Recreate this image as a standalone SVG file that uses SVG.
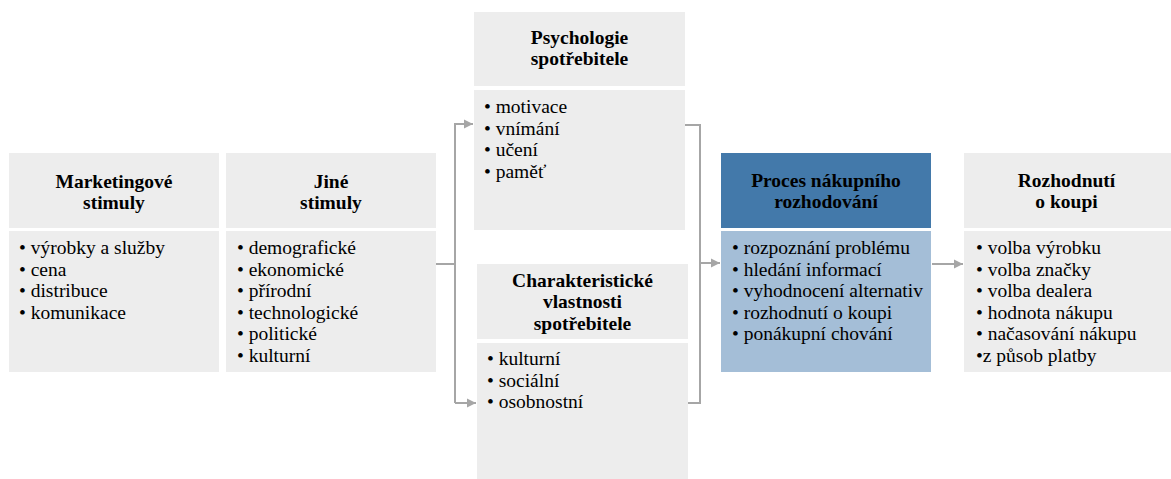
<svg xmlns="http://www.w3.org/2000/svg" width="1171" height="479" viewBox="0 0 1171 479">
<style>
.box{fill:#EDEDED}
.hdrBlue{fill:#4379AA}
.bodyBlue{fill:#A4BED7}
.f{font-family:"Liberation Serif",serif;font-size:19.5px;fill:#000}
.t{font-family:"Liberation Serif",serif;font-size:19.5px;font-weight:bold;text-anchor:middle;fill:#000}
.conn{stroke:#A6A6A6;stroke-width:2;fill:none}
</style>
<defs>
<marker id="arr" markerUnits="userSpaceOnUse" markerWidth="10" markerHeight="10" refX="9" refY="5" orient="auto">
<path d="M0,0.5 L9,5 L0,9.5 z" fill="#A6A6A6"/>
</marker>
</defs>
<rect width="1171" height="479" fill="#FFFFFF"/>
<g id="connectors">
<path class="conn" d="M436,264 H455"/>
<path class="conn" d="M455,403 V124 H473" marker-end="url(#arr)"/>
<path class="conn" d="M455,403 H476" marker-end="url(#arr)"/>
<path class="conn" d="M685,125 H700 V403 H688"/>
<path class="conn" d="M700,263 H720" marker-end="url(#arr)"/>
<path class="conn" d="M932,264 H963" marker-end="url(#arr)"/>
</g>
<g id="marketingove">
<rect class="box" x="9" y="153" width="210" height="75"/>
<rect class="box" x="9" y="231" width="210" height="141"/>
<text class="t" font-family="Liberation Serif"><tspan x="114" y="188">Marketingové</tspan><tspan x="114" y="209">stimuly</tspan></text>
<text class="f" font-family="Liberation Serif"><tspan x="19" y="254">• výrobky a služby</tspan><tspan x="19" y="275.5">• cena</tspan><tspan x="19" y="297">• distribuce</tspan><tspan x="19" y="318.5">• komunikace</tspan></text>
</g>
<g id="jine">
<rect class="box" x="226" y="153" width="210" height="75"/>
<rect class="box" x="226" y="231" width="210" height="141"/>
<text class="t" font-family="Liberation Serif"><tspan x="331" y="188">Jiné</tspan><tspan x="331" y="209">stimuly</tspan></text>
<text class="f" font-family="Liberation Serif"><tspan x="237" y="254">• demografické</tspan><tspan x="237" y="275.5">• ekonomické</tspan><tspan x="237" y="297">• přírodní</tspan><tspan x="237" y="318.5">• technologické</tspan><tspan x="237" y="340">• politické</tspan><tspan x="237" y="361.5">• kulturní</tspan></text>
</g>
<g id="psychologie">
<rect class="box" x="474" y="12" width="211" height="74"/>
<rect class="box" x="474" y="90" width="211" height="140"/>
<text class="t" font-family="Liberation Serif"><tspan x="579.5" y="44">Psychologie</tspan><tspan x="579.5" y="65">spotřebitele</tspan></text>
<text class="f" font-family="Liberation Serif"><tspan x="484" y="113">• motivace</tspan><tspan x="484" y="134.5">• vnímání</tspan><tspan x="484" y="156">• učení</tspan><tspan x="484" y="177.5">• paměť</tspan></text>
</g>
<g id="charakteristicke">
<rect class="box" x="477" y="264" width="211" height="75"/>
<rect class="box" x="477" y="343" width="211" height="136"/>
<text class="t" font-family="Liberation Serif"><tspan x="582.5" y="287">Charakteristické</tspan><tspan x="582.5" y="308">vlastnosti</tspan><tspan x="582.5" y="329.5">spotřebitele</tspan></text>
<text class="f" font-family="Liberation Serif"><tspan x="487" y="365">• kulturní</tspan><tspan x="487" y="386.5">• sociální</tspan><tspan x="487" y="408">• osobnostní</tspan></text>
</g>
<g id="proces">
<rect class="hdrBlue" x="721" y="153" width="210" height="75"/>
<rect class="bodyBlue" x="721" y="231" width="210" height="141"/>
<text class="t" font-family="Liberation Serif"><tspan x="826" y="187">Proces nákupního</tspan><tspan x="826" y="208">rozhodování</tspan></text>
<text class="f" font-family="Liberation Serif"><tspan x="732" y="254">• rozpoznání problému</tspan><tspan x="732" y="275.5">• hledání informací</tspan><tspan x="732" y="297">• vyhodnocení alternativ</tspan><tspan x="732" y="318.5">• rozhodnutí o koupi</tspan><tspan x="732" y="340">• ponákupní chování</tspan></text>
</g>
<g id="rozhodnuti">
<rect class="box" x="964" y="153" width="207" height="75"/>
<rect class="box" x="964" y="231" width="207" height="141"/>
<text class="t" font-family="Liberation Serif"><tspan x="1066.5" y="187">Rozhodnutí</tspan><tspan x="1066.5" y="208">o koupi</tspan></text>
<text class="f" font-family="Liberation Serif"><tspan x="976" y="254">• volba výrobku</tspan><tspan x="976" y="275.5">• volba značky</tspan><tspan x="976" y="297">• volba dealera</tspan><tspan x="976" y="318.5">• hodnota nákupu</tspan><tspan x="976" y="340">• načasování nákupu</tspan><tspan x="976" y="361.5">•z působ platby</tspan></text>
</g>
</svg>
